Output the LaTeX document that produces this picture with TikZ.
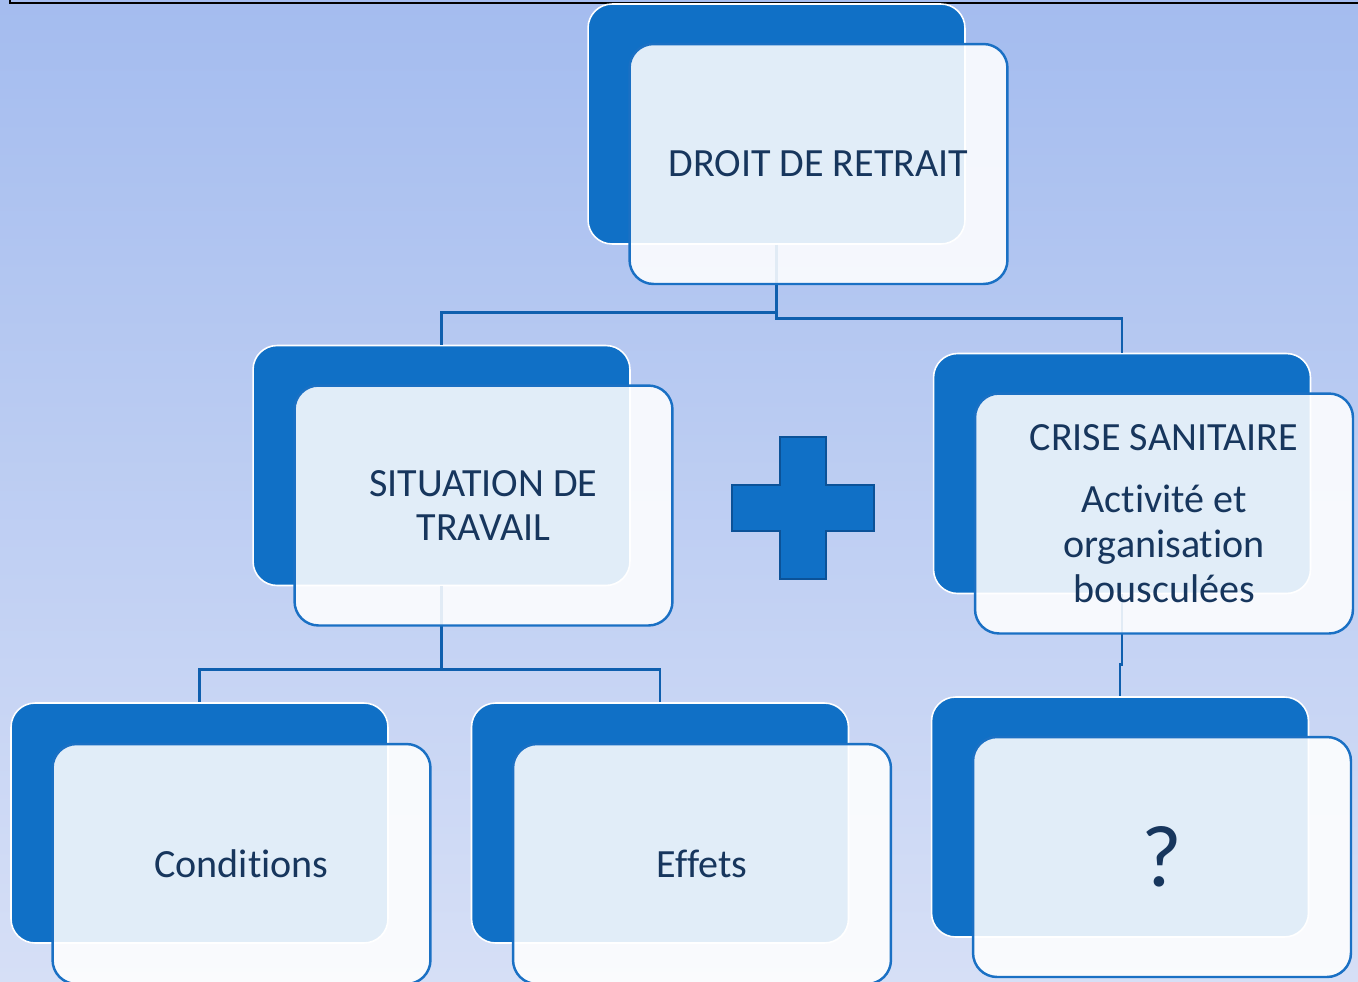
\documentclass[tikz,border=0pt]{standalone}
\usepackage{fontspec}
\setmainfont{Carlito}[Ligatures=NoCommon]
\usetikzlibrary{positioning}

\definecolor{boxblue}{HTML}{1070C6}
\definecolor{edgeblue}{HTML}{1A70C4}
\definecolor{linkblue}{HTML}{0F5FAE}
\definecolor{textnavy}{HTML}{17365D}
\definecolor{bgtop}{HTML}{A4BCEF}
\definecolor{bgbot}{HTML}{D6DFF6}
\definecolor{plusedge}{HTML}{0B5298}

\tikzset{
  backbox/.style={draw=white, line width=0.9pt, fill=boxblue, rounded corners=0.48cm,
    minimum width=7.54cm, minimum height=4.8cm, inner sep=0pt},
  frontbox/.style={draw=edgeblue, line width=1.4pt, fill=white, fill opacity=0.88, text opacity=1,
    rounded corners=0.48cm, minimum width=7.56cm, minimum height=4.8cm,
    text=textnavy, align=center, font=\fontsize{22.8}{25.5}\selectfont},
  link/.style={draw=linkblue, line width=1.5pt},
  plussign/.style={draw=plusedge, line width=1.3pt, fill=boxblue},
}

\begin{document}
\begin{tikzpicture}[x=0.02cm, y=-0.02cm]
    \useasboundingbox (0,0) rectangle (1358,981);
    \fill [top color=bgtop, bottom color=bgbot] (0,0) rectangle (1358,981);
    \draw [line width=1.6pt] (10,-5) -- (10,3) -- (1370,3); % frame of the slide above

    % back boxes
    \node [backbox] (droit) at (776.5,124) {};
    \node [backbox] (sit) at (441.5,465.5) {};
    \node [backbox] (crise) at (1122,473.5) {};
    \node [backbox] (cond) at (199.5,823) {};
    \node [backbox, right=1.64cm of cond] (eff) {};
    \node [backbox] (ques) at (1120,817) {};

    % links
    \draw [link] (droit.south) -- ++(0,68) -| (sit.north);
    \draw [link] (droit.south) -- ++(0,74) -| (crise.north);
    \draw [link] (sit.south) -- ++(0,83) -| (cond.north);
    \draw [link] (sit.south) -- ++(0,83) -| (eff.north);
    \draw [link] (crise.south) -- ++(0,70) -| (ques.north);

    % front boxes
    \node [frontbox] (droitf) at ([shift={(42,40)}]droit.center) {DROIT DE RETRAIT};
    \node [frontbox] (sitf) at ([shift={(42,40)}]sit.center) {SITUATION DE\\TRAVAIL};
    \node [frontbox] (crisef) at ([shift={(42,40)}]crise.center)
      {CRISE SANITAIRE\\[10pt]Activité et\\organisation\\bousculées};
    \node [frontbox] (condf) at ([shift={(42,41)}]cond.center) {Conditions};
    \node [frontbox] (efff) at ([shift={(42,41)}]eff.center) {Effets};
    \node [frontbox, font=\fontsize{50}{60}\selectfont] (quesf) at ([shift={(42,40)}]ques.center) {?};

    \coordinate (plus) at (803,508);
    \draw [plussign] (plus) ++(-23,-71) -- ++(46,0) -- ++(0,48) -- ++(48,0) -- ++(0,46)
      -- ++(-48,0) -- ++(0,48) -- ++(-46,0) -- ++(0,-48) -- ++(-48,0) -- ++(0,-46)
      -- ++(48,0) -- cycle;
  \end{tikzpicture}
\end{document}
